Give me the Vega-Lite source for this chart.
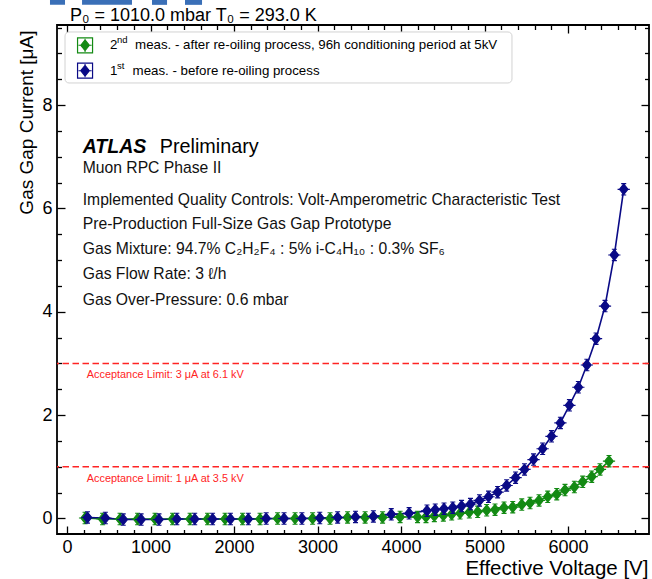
{
  "$schema": "https://vega.github.io/schema/vega-lite/v6.json",
  "width": 592,
  "height": 509,
  "autosize": {"type": "none"},
  "padding": {"left": 57, "top": 25, "right": 3, "bottom": 45},
  "background": "white",
  "config": {
    "view": {"stroke": "black", "strokeWidth": 1.8},
    "axis": {
      "domain": false, "grid": false, "tickColor": "black", "tickWidth": 1.3,
      "labelFont": "Liberation Sans", "labelFontSize": 18, "labelColor": "black",
      "labelFlush": false, "labelOverlap": false,
      "titleFont": "Liberation Sans", "titleFontWeight": "normal", "titleColor": "black",
      "zindex": 1
    },
    "text": {"font": "Liberation Sans", "color": "black"}
  },
  "datasets": {
    "iv": [
      {"s": "2nd", "v": 216, "i": 0.01}, {"s": "2nd", "v": 426, "i": -0.01}, {"s": "2nd", "v": 635, "i": -0.01},
      {"s": "2nd", "v": 845, "i": -0.01}, {"s": "2nd", "v": 1054, "i": -0.01}, {"s": "2nd", "v": 1264, "i": -0.01},
      {"s": "2nd", "v": 1474, "i": -0.01}, {"s": "2nd", "v": 1683, "i": -0.01}, {"s": "2nd", "v": 1893, "i": -0.01},
      {"s": "2nd", "v": 2102, "i": -0.01}, {"s": "2nd", "v": 2312, "i": -0.01}, {"s": "2nd", "v": 2522, "i": 0.0},
      {"s": "2nd", "v": 2731, "i": 0.0}, {"s": "2nd", "v": 2941, "i": 0.0}, {"s": "2nd", "v": 3150, "i": 0.0},
      {"s": "2nd", "v": 3360, "i": 0.02}, {"s": "2nd", "v": 3570, "i": 0.02}, {"s": "2nd", "v": 3779, "i": 0.02},
      {"s": "2nd", "v": 3989, "i": 0.03}, {"s": "2nd", "v": 4198, "i": 0.03}, {"s": "2nd", "v": 4299, "i": 0.03},
      {"s": "2nd", "v": 4399, "i": 0.05}, {"s": "2nd", "v": 4507, "i": 0.06}, {"s": "2nd", "v": 4607, "i": 0.08},
      {"s": "2nd", "v": 4707, "i": 0.10}, {"s": "2nd", "v": 4818, "i": 0.12}, {"s": "2nd", "v": 4918, "i": 0.13},
      {"s": "2nd", "v": 5026, "i": 0.16}, {"s": "2nd", "v": 5126, "i": 0.17}, {"s": "2nd", "v": 5234, "i": 0.21},
      {"s": "2nd", "v": 5338, "i": 0.22}, {"s": "2nd", "v": 5446, "i": 0.27}, {"s": "2nd", "v": 5545, "i": 0.30},
      {"s": "2nd", "v": 5653, "i": 0.35}, {"s": "2nd", "v": 5757, "i": 0.42}, {"s": "2nd", "v": 5865, "i": 0.47},
      {"s": "2nd", "v": 5964, "i": 0.55}, {"s": "2nd", "v": 6076, "i": 0.61}, {"s": "2nd", "v": 6176, "i": 0.71},
      {"s": "2nd", "v": 6284, "i": 0.81}, {"s": "2nd", "v": 6383, "i": 0.95}, {"s": "2nd", "v": 6491, "i": 1.11},
      {"s": "1st", "v": 245, "i": 0.02}, {"s": "1st", "v": 459, "i": 0.01}, {"s": "1st", "v": 673, "i": -0.02},
      {"s": "1st", "v": 887, "i": -0.02}, {"s": "1st", "v": 1101, "i": -0.02}, {"s": "1st", "v": 1315, "i": -0.01},
      {"s": "1st", "v": 1529, "i": -0.01}, {"s": "1st", "v": 1743, "i": -0.01}, {"s": "1st", "v": 1957, "i": -0.01},
      {"s": "1st", "v": 2171, "i": -0.01}, {"s": "1st", "v": 2385, "i": 0.0}, {"s": "1st", "v": 2599, "i": 0.0},
      {"s": "1st", "v": 2813, "i": 0.0}, {"s": "1st", "v": 3027, "i": 0.01}, {"s": "1st", "v": 3241, "i": 0.02},
      {"s": "1st", "v": 3455, "i": 0.03}, {"s": "1st", "v": 3669, "i": 0.04}, {"s": "1st", "v": 3883, "i": 0.08},
      {"s": "1st", "v": 4097, "i": 0.10}, {"s": "1st", "v": 4311, "i": 0.15}, {"s": "1st", "v": 4410, "i": 0.17},
      {"s": "1st", "v": 4515, "i": 0.19}, {"s": "1st", "v": 4620, "i": 0.21}, {"s": "1st", "v": 4725, "i": 0.24},
      {"s": "1st", "v": 4832, "i": 0.28}, {"s": "1st", "v": 4940, "i": 0.35}, {"s": "1st", "v": 5048, "i": 0.42},
      {"s": "1st", "v": 5157, "i": 0.51}, {"s": "1st", "v": 5265, "i": 0.64}, {"s": "1st", "v": 5372, "i": 0.79},
      {"s": "1st", "v": 5479, "i": 0.95}, {"s": "1st", "v": 5587, "i": 1.14}, {"s": "1st", "v": 5696, "i": 1.35},
      {"s": "1st", "v": 5802, "i": 1.59}, {"s": "1st", "v": 5909, "i": 1.85}, {"s": "1st", "v": 6017, "i": 2.19},
      {"s": "1st", "v": 6124, "i": 2.54}, {"s": "1st", "v": 6226, "i": 2.97}, {"s": "1st", "v": 6336, "i": 3.48},
      {"s": "1st", "v": 6443, "i": 4.11}, {"s": "1st", "v": 6555, "i": 5.10}, {"s": "1st", "v": 6667, "i": 6.37}
    ],
    "limits": [
      {"i": 3, "note": "Acceptance Limit: 3 μA at 6.1 kV"},
      {"i": 1, "note": "Acceptance Limit: 1 μA at 3.5 kV"}
    ],
    "notes": [
      {"v": 188, "i": 6.680, "t": "Muon RPC Phase II"},
      {"v": 188, "i": 6.067, "t": "Implemented Quality Controls: Volt-Amperometric Characteristic Test"},
      {"v": 188, "i": 5.596, "t": "Pre-Production Full-Size Gas Gap Prototype"},
      {"v": 188, "i": 5.118, "t": "Gas Mixture: 94.7% C₂H₂F₄ : 5% i-C₄H₁₀ : 0.3% SF₆"},
      {"v": 188, "i": 4.629, "t": "Gas Flow Rate: 3 ℓ/h"},
      {"v": 188, "i": 4.126, "t": "Gas Over-Pressure: 0.6 mbar"}
    ],
    "heading": [{"v": 188, "i": 7.067, "brand": "ATLAS", "tag": "Preliminary"}],
    "header": [{"v": 36, "i": 9.637, "t": "P₀ = 1010.0 mbar T₀ = 293.0 K"}],
    "legendbox": [{"v": -24, "v2": 5329, "i": 9.415, "i2": 8.428}],
    "legend": [
      {"s": "2nd", "v": 216, "i": 9.157, "num": "2", "sup": "nd", "rest": "meas. - after re-oiling process, 96h conditioning period at 5kV"},
      {"s": "1st", "v": 216, "i": 8.666, "num": "1", "sup": "st", "rest": "meas. - before re-oiling process"}
    ],
    "banner": [
      {"v": -204, "v2": -24, "i": 10.1, "i2": 9.94},
      {"v": 180, "v2": 778, "i": 10.1, "i2": 9.94},
      {"v": 1018, "v2": 1198, "i": 10.1, "i2": 9.94},
      {"v": 1413, "v2": 1617, "i": 10.1, "i2": 9.94}
    ]
  },
  "resolve": {"axis": {"x": "independent", "y": "independent"}},
  "layer": [
    {
      "data": {"name": "banner"},
      "mark": {"type": "rect", "color": "#3a6fb7"},
      "encoding": {
        "x": {"field": "v", "type": "quantitative", "scale": {"domain": [-120, 6970], "nice": false, "zero": false}, "axis": null},
        "x2": {"field": "v2"},
        "y": {"field": "i", "type": "quantitative", "scale": {"domain": [-0.3, 9.55], "nice": false, "zero": false}, "axis": null},
        "y2": {"field": "i2"}
      }
    },
    {
      "data": {"name": "header"},
      "mark": {"type": "text", "align": "left", "baseline": "alphabetic", "fontSize": 18},
      "encoding": {
        "x": {"field": "v", "type": "quantitative", "scale": {"domain": [-120, 6970], "nice": false, "zero": false}, "axis": null},
        "y": {"field": "i", "type": "quantitative", "scale": {"domain": [-0.3, 9.55], "nice": false, "zero": false}, "axis": null},
        "text": {"field": "t"}
      }
    },
    {
      "data": {"name": "legendbox"},
      "mark": {"type": "rect", "fill": "white", "stroke": "#d2d2d2", "strokeWidth": 1, "cornerRadius": 4},
      "encoding": {
        "x": {"field": "v", "type": "quantitative", "scale": {"domain": [-120, 6970], "nice": false, "zero": false}, "axis": null},
        "x2": {"field": "v2"},
        "y": {"field": "i", "type": "quantitative", "scale": {"domain": [-0.3, 9.55], "nice": false, "zero": false}, "axis": null},
        "y2": {"field": "i2"}
      }
    },
    {
      "data": {"name": "limits"},
      "mark": {"type": "rule", "color": "#ff2424", "strokeWidth": 1.5, "strokeDash": [6.5, 3.5]},
      "encoding": {
        "y": {"field": "i", "type": "quantitative", "scale": {"domain": [-0.3, 9.55], "nice": false, "zero": false}, "axis": null}
      }
    },
    {
      "data": {"name": "limits"},
      "mark": {"type": "text", "align": "left", "baseline": "alphabetic", "dy": 15, "fontSize": 10.9, "color": "#ff2424"},
      "encoding": {
        "x": {"datum": 236, "type": "quantitative", "scale": {"domain": [-120, 6970], "nice": false, "zero": false}, "axis": null},
        "y": {"field": "i", "type": "quantitative", "scale": {"domain": [-0.3, 9.55], "nice": false, "zero": false}, "axis": null},
        "text": {"field": "note"}
      }
    },
    {
      "data": {"name": "iv"},
      "mark": {"type": "line", "strokeWidth": 1.6},
      "encoding": {
        "x": {"field": "v", "type": "quantitative", "scale": {"domain": [-120, 6970], "nice": false, "zero": false},
          "axis": {"orient": "bottom", "values": [0, 1000, 2000, 3000, 4000, 5000, 6000], "format": "d",
            "tickSize": -8, "labelPadding": 12,
            "title": "Effective Voltage [V]", "titleFontSize": 20.5, "titleAlign": "right", "titleAnchor": "end",
            "titleBaseline": "alphabetic", "titleX": 591, "titleY": 40.6}},
        "y": {"field": "i", "type": "quantitative", "scale": {"domain": [-0.3, 9.55], "nice": false, "zero": false},
          "axis": {"orient": "left", "values": [0, 2, 4, 6, 8], "format": "d",
            "tickSize": -8, "labelPadding": 13,
            "title": "Gas Gap Current [μA]", "titleFontSize": 19, "titleAngle": 270, "titleAlign": "right",
            "titleAnchor": "end", "titleBaseline": "alphabetic", "titleX": -25, "titleY": 5}},
        "color": {"field": "s", "type": "nominal", "scale": {"domain": ["2nd", "1st"], "range": ["#138a13", "#0a0a86"]}, "legend": null},
        "order": {"field": "v", "type": "quantitative"}
      }
    },
    {
      "data": {"name": "iv"},
      "mark": {"type": "point", "filled": true, "opacity": 1, "size": 144, "strokeWidth": 1.1,
        "shape": "M-0.72,0L0,-0.9L0.72,0L0,0.9Z M-1.02,0H1.02 M0,-0.95V0.95 M-0.42,-0.95H0.42 M-0.42,0.95H0.42"},
      "encoding": {
        "x": {"field": "v", "type": "quantitative", "scale": {"domain": [-120, 6970], "nice": false, "zero": false},
          "axis": {"orient": "bottom", "tickSize": -4.5, "labels": false, "title": null,
            "values": [200, 400, 600, 800, 1200, 1400, 1600, 1800, 2200, 2400, 2600, 2800, 3200, 3400, 3600, 3800, 4200, 4400, 4600, 4800, 5200, 5400, 5600, 5800, 6200, 6400, 6600, 6800]}},
        "y": {"field": "i", "type": "quantitative", "scale": {"domain": [-0.3, 9.55], "nice": false, "zero": false},
          "axis": {"orient": "left", "tickSize": -4.5, "labels": false, "title": null,
            "values": [0.5, 1, 1.5, 2.5, 3, 3.5, 4.5, 5, 5.5, 6.5, 7, 7.5, 8.5, 9, 9.5]}},
        "fill": {"field": "s", "type": "nominal", "scale": {"domain": ["2nd", "1st"], "range": ["#138a13", "#0a0a86"]}, "legend": null},
        "stroke": {"field": "s", "type": "nominal", "scale": {"domain": ["2nd", "1st"], "range": ["#138a13", "#0a0a86"]}, "legend": null}
      }
    },
    {
      "data": {"name": "heading"},
      "mark": {"type": "text", "align": "left", "baseline": "alphabetic", "fontSize": 19.5, "fontWeight": "bold", "fontStyle": "italic"},
      "encoding": {
        "x": {"field": "v", "type": "quantitative", "scale": {"domain": [-120, 6970], "nice": false, "zero": false}, "axis": null},
        "y": {"field": "i", "type": "quantitative", "scale": {"domain": [-0.3, 9.55], "nice": false, "zero": false}, "axis": null},
        "text": {"field": "brand"}
      }
    },
    {
      "data": {"name": "heading"},
      "mark": {"type": "text", "align": "left", "baseline": "alphabetic", "fontSize": 19.8, "dx": 77},
      "encoding": {
        "x": {"field": "v", "type": "quantitative", "scale": {"domain": [-120, 6970], "nice": false, "zero": false}, "axis": null},
        "y": {"field": "i", "type": "quantitative", "scale": {"domain": [-0.3, 9.55], "nice": false, "zero": false}, "axis": null},
        "text": {"field": "tag"}
      }
    },
    {
      "data": {"name": "notes"},
      "mark": {"type": "text", "align": "left", "baseline": "alphabetic", "fontSize": 15.7, "color": "#111111"},
      "encoding": {
        "x": {"field": "v", "type": "quantitative", "scale": {"domain": [-120, 6970], "nice": false, "zero": false},
          "axis": {"orient": "top", "values": [0, 1000, 2000, 3000, 4000, 5000, 6000], "tickSize": -8, "labels": false, "title": null}},
        "y": {"field": "i", "type": "quantitative", "scale": {"domain": [-0.3, 9.55], "nice": false, "zero": false},
          "axis": {"orient": "right", "values": [0, 2, 4, 6, 8], "tickSize": -8, "labels": false, "title": null}},
        "text": {"field": "t"}
      }
    },
    {
      "data": {"name": "legend"},
      "mark": {"type": "point", "shape": "square", "filled": false, "opacity": 1, "size": 225, "strokeWidth": 1.2},
      "encoding": {
        "x": {"field": "v", "type": "quantitative", "scale": {"domain": [-120, 6970], "nice": false, "zero": false}, "axis": null},
        "y": {"field": "i", "type": "quantitative", "scale": {"domain": [-0.3, 9.55], "nice": false, "zero": false}, "axis": null},
        "stroke": {"field": "s", "type": "nominal", "scale": {"domain": ["2nd", "1st"], "range": ["#138a13", "#0a0a86"]}, "legend": null}
      }
    },
    {
      "data": {"name": "legend"},
      "mark": {"type": "point", "filled": true, "opacity": 1, "size": 144, "strokeWidth": 1.1,
        "shape": "M-0.72,0L0,-0.9L0.72,0L0,0.9Z M-1.1,0H1.1 M0,-1.1V1.1"},
      "encoding": {
        "x": {"field": "v", "type": "quantitative", "scale": {"domain": [-120, 6970], "nice": false, "zero": false}, "axis": null},
        "y": {"field": "i", "type": "quantitative", "scale": {"domain": [-0.3, 9.55], "nice": false, "zero": false}, "axis": null},
        "fill": {"field": "s", "type": "nominal", "scale": {"domain": ["2nd", "1st"], "range": ["#138a13", "#0a0a86"]}, "legend": null},
        "stroke": {"field": "s", "type": "nominal", "scale": {"domain": ["2nd", "1st"], "range": ["#138a13", "#0a0a86"]}, "legend": null}
      }
    },
    {
      "data": {"name": "legend"},
      "mark": {"type": "text", "align": "left", "baseline": "middle", "fontSize": 13.3, "dx": 25},
      "encoding": {
        "x": {"field": "v", "type": "quantitative", "scale": {"domain": [-120, 6970], "nice": false, "zero": false}, "axis": null},
        "y": {"field": "i", "type": "quantitative", "scale": {"domain": [-0.3, 9.55], "nice": false, "zero": false}, "axis": null},
        "text": {"field": "num"}
      }
    },
    {
      "data": {"name": "legend"},
      "mark": {"type": "text", "align": "left", "baseline": "middle", "fontSize": 9.5, "dx": 32, "dy": -5},
      "encoding": {
        "x": {"field": "v", "type": "quantitative", "scale": {"domain": [-120, 6970], "nice": false, "zero": false}, "axis": null},
        "y": {"field": "i", "type": "quantitative", "scale": {"domain": [-0.3, 9.55], "nice": false, "zero": false}, "axis": null},
        "text": {"field": "sup"}
      }
    },
    {
      "data": {"name": "legend"},
      "mark": {"type": "text", "align": "left", "baseline": "middle", "fontSize": 13.3, "dx": {"expr": "datum.sup == 'nd' ? 50 : 47.5"}},
      "encoding": {
        "x": {"field": "v", "type": "quantitative", "scale": {"domain": [-120, 6970], "nice": false, "zero": false},
          "axis": {"orient": "top", "tickSize": -4.5, "labels": false, "title": null,
            "values": [200, 400, 600, 800, 1200, 1400, 1600, 1800, 2200, 2400, 2600, 2800, 3200, 3400, 3600, 3800, 4200, 4400, 4600, 4800, 5200, 5400, 5600, 5800, 6200, 6400, 6600, 6800]}},
        "y": {"field": "i", "type": "quantitative", "scale": {"domain": [-0.3, 9.55], "nice": false, "zero": false},
          "axis": {"orient": "right", "tickSize": -4.5, "labels": false, "title": null,
            "values": [0.5, 1, 1.5, 2.5, 3, 3.5, 4.5, 5, 5.5, 6.5, 7, 7.5, 8.5, 9, 9.5]}},
        "text": {"field": "rest"}
      }
    }
  ]
}
